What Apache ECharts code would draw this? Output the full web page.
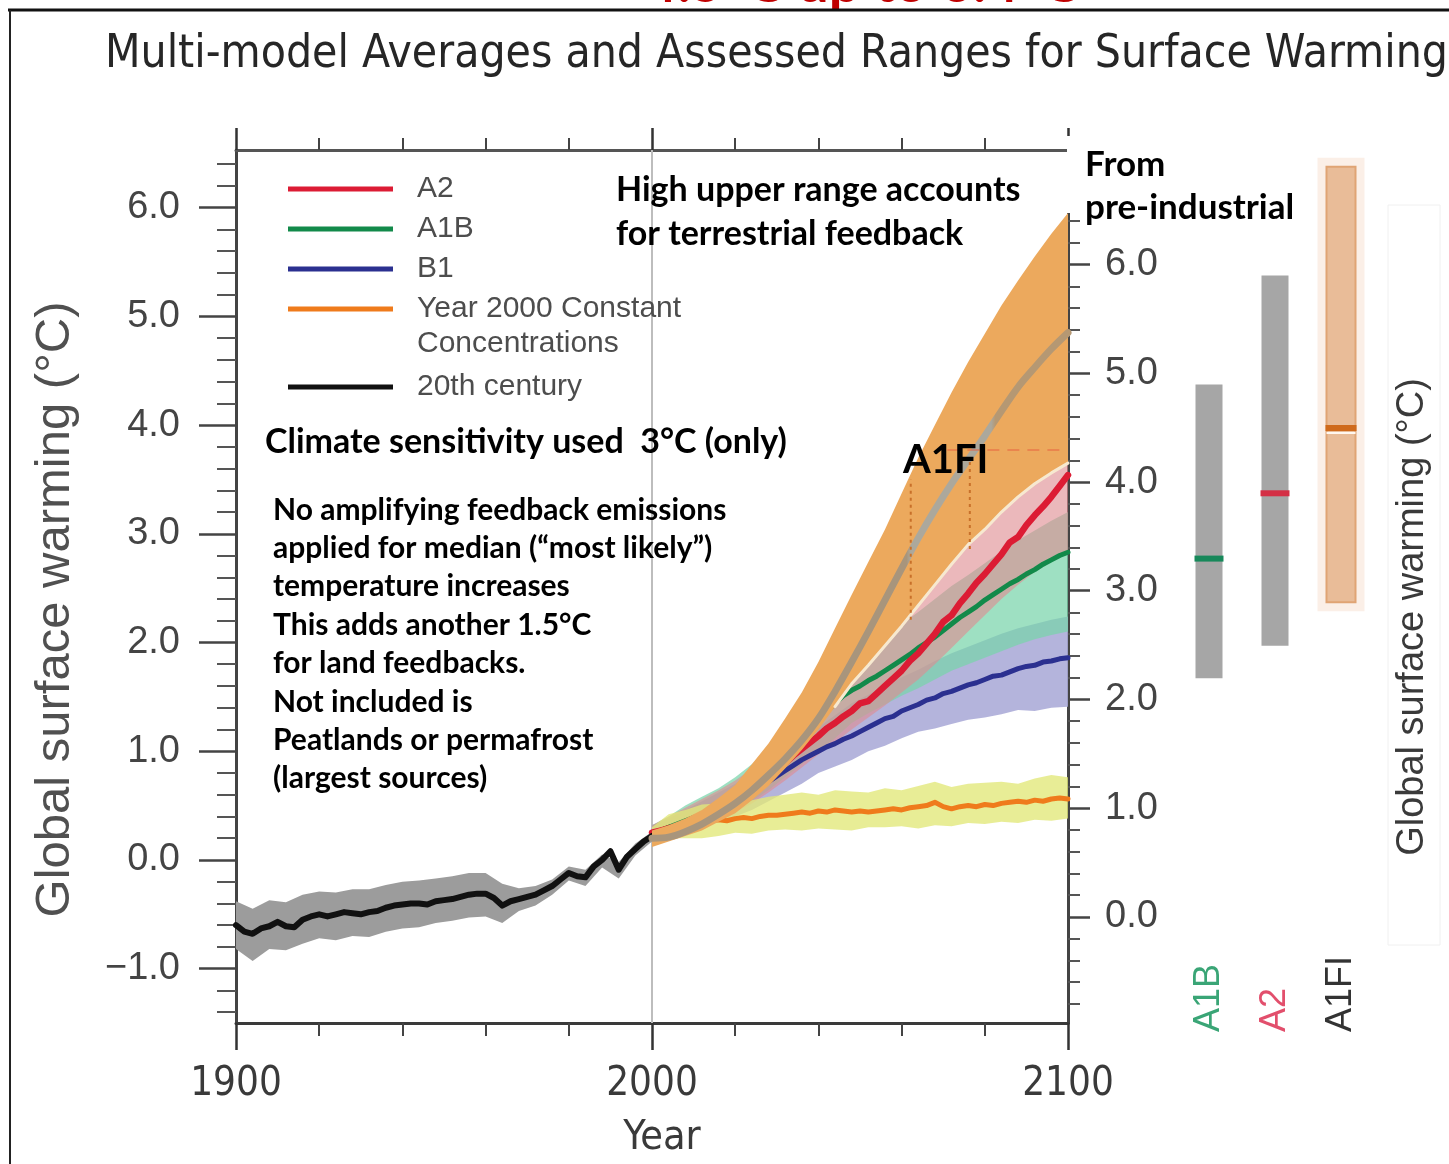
<!DOCTYPE html>
<html>
<head>
<meta charset="utf-8">
<title>Multi-model Averages and Assessed Ranges for Surface Warming</title>
<script src="https://cdn.jsdelivr.net/npm/echarts@6/dist/echarts.min.js"></script>
<style>
  html, body { margin: 0; padding: 0; background: #ffffff; }
  #chart { width: 1449px; height: 1164px; }
</style>
</head>
<body>
<div id="chart"></div>
<script>
// ---------------------------------------------------------------
// 20th century simulations (°C, relative to 1980–1999)
// ---------------------------------------------------------------
const histYears = [1900,1902,1904,1906,1908,1910,1912,1914,1916,1918,1920,1922,1924,1926,1928,1930,1932,1934,1936,1938,1940,1942,1944,1946,1948,1950,1952,1954,1956,1958,1960,1962,1964,1966,1968,1970,1972,1974,1976,1978,1980,1982,1984,1986,1988,1990,1992,1994,1996,1998,2000];
const histMean = [-0.60,-0.66,-0.68,-0.63,-0.61,-0.57,-0.61,-0.62,-0.55,-0.52,-0.50,-0.52,-0.50,-0.48,-0.49,-0.50,-0.48,-0.47,-0.44,-0.42,-0.41,-0.40,-0.40,-0.41,-0.38,-0.37,-0.36,-0.34,-0.32,-0.31,-0.31,-0.35,-0.42,-0.38,-0.36,-0.34,-0.32,-0.28,-0.24,-0.18,-0.12,-0.15,-0.16,-0.06,0.00,0.08,-0.09,0.03,0.10,0.17,0.22];
const histBandYears = [1900,1904,1908,1912,1916,1920,1924,1928,1932,1936,1940,1944,1948,1952,1956,1960,1964,1968,1972,1976,1980,1984,1988,1992,1996,2000];
const histHigh = [-0.38,-0.45,-0.37,-0.39,-0.32,-0.29,-0.30,-0.27,-0.27,-0.23,-0.20,-0.19,-0.17,-0.15,-0.12,-0.12,-0.22,-0.26,-0.24,-0.18,-0.06,-0.09,0.05,-0.02,0.15,0.26];
const histLow  = [-0.82,-0.93,-0.82,-0.83,-0.77,-0.72,-0.74,-0.70,-0.71,-0.66,-0.63,-0.62,-0.58,-0.56,-0.53,-0.52,-0.58,-0.47,-0.42,-0.32,-0.19,-0.24,-0.07,-0.17,0.04,0.17];

// ---------------------------------------------------------------
// 21st century scenario means (°C)
// ---------------------------------------------------------------
const futureYears = [2000,2002,2004,2006,2008,2010,2012,2014,2016,2018,2020,2022,2024,2026,2028,2030,2032,2034,2036,2038,2040,2042,2044,2046,2048,2050,2052,2054,2056,2058,2060,2062,2064,2066,2068,2070,2072,2074,2076,2078,2080,2082,2084,2086,2088,2090,2092,2094,2096,2098,2100];
const a2Mean = [0.25,0.27,0.29,0.31,0.34,0.37,0.40,0.43,0.47,0.51,0.55,0.60,0.65,0.71,0.77,0.83,0.89,0.96,1.02,1.08,1.14,1.21,1.26,1.32,1.37,1.44,1.46,1.53,1.60,1.67,1.74,1.83,1.90,1.99,2.08,2.19,2.25,2.36,2.45,2.55,2.63,2.72,2.81,2.92,2.97,3.08,3.17,3.25,3.34,3.44,3.54];
const a1bMean = [0.25,0.27,0.30,0.33,0.36,0.39,0.42,0.46,0.50,0.55,0.60,0.66,0.72,0.78,0.85,0.92,0.99,1.06,1.13,1.21,1.28,1.36,1.44,1.51,1.56,1.60,1.65,1.69,1.74,1.79,1.84,1.89,1.95,2.00,2.05,2.11,2.17,2.23,2.28,2.33,2.39,2.44,2.49,2.54,2.58,2.63,2.67,2.72,2.76,2.80,2.83];
const b1Mean = [0.25,0.27,0.29,0.31,0.34,0.37,0.40,0.43,0.47,0.51,0.55,0.59,0.63,0.67,0.72,0.77,0.82,0.87,0.92,0.96,1.00,1.04,1.07,1.11,1.14,1.18,1.22,1.26,1.30,1.32,1.37,1.40,1.43,1.47,1.49,1.53,1.55,1.58,1.61,1.63,1.66,1.69,1.70,1.73,1.76,1.78,1.79,1.82,1.83,1.85,1.86];
const commitMean = [0.25,0.27,0.30,0.31,0.33,0.34,0.35,0.36,0.37,0.36,0.38,0.39,0.38,0.40,0.41,0.41,0.42,0.43,0.44,0.43,0.45,0.44,0.46,0.45,0.44,0.45,0.44,0.45,0.46,0.47,0.46,0.48,0.49,0.50,0.53,0.49,0.47,0.49,0.50,0.49,0.51,0.50,0.52,0.53,0.54,0.53,0.55,0.54,0.56,0.57,0.56];

// ---------------------------------------------------------------
// ±1 standard deviation ranges (°C)
// ---------------------------------------------------------------
const bandYears = [2000,2004,2008,2012,2016,2020,2024,2028,2032,2036,2040,2044,2048,2052,2056,2060,2064,2068,2072,2076,2080,2084,2088,2092,2096,2100];
const b1Low    = [0.18,0.22,0.26,0.30,0.35,0.40,0.46,0.54,0.62,0.70,0.80,0.86,0.92,1.00,1.05,1.12,1.18,1.21,1.25,1.29,1.31,1.34,1.38,1.37,1.40,1.41];
const b1High   = [0.32,0.38,0.46,0.54,0.62,0.70,0.80,0.91,1.02,1.12,1.22,1.33,1.44,1.52,1.60,1.68,1.75,1.83,1.90,1.96,2.02,2.08,2.13,2.17,2.21,2.24];
const a1bLow   = [0.20,0.26,0.30,0.34,0.40,0.46,0.54,0.64,0.76,0.88,1.00,1.12,1.26,1.35,1.43,1.51,1.58,1.66,1.74,1.80,1.86,1.92,1.98,2.03,2.07,2.10];
const a1bHigh  = [0.32,0.40,0.50,0.58,0.66,0.76,0.88,1.02,1.18,1.35,1.56,1.70,1.82,1.94,2.05,2.17,2.28,2.40,2.52,2.62,2.73,2.84,2.94,3.03,3.12,3.20];
const a2Low    = [0.20,0.26,0.29,0.33,0.38,0.44,0.52,0.62,0.73,0.85,0.97,1.08,1.20,1.31,1.42,1.54,1.66,1.80,1.95,2.10,2.25,2.40,2.53,2.65,2.74,2.82];
const a2High   = [0.32,0.40,0.48,0.56,0.64,0.73,0.84,0.97,1.12,1.30,1.48,1.65,1.80,1.95,2.10,2.27,2.44,2.62,2.80,2.98,3.14,3.30,3.45,3.58,3.70,3.82];
const commitLow  = [0.18,0.20,0.20,0.20,0.22,0.25,0.24,0.27,0.28,0.27,0.29,0.28,0.27,0.30,0.30,0.31,0.29,0.32,0.31,0.34,0.33,0.35,0.34,0.37,0.36,0.38];
const commitHigh = [0.30,0.42,0.46,0.51,0.52,0.55,0.55,0.58,0.60,0.62,0.60,0.64,0.63,0.62,0.66,0.64,0.68,0.72,0.67,0.70,0.71,0.72,0.70,0.75,0.78,0.76];

// A1FI range with terrestrial carbon feedback, and its median
const a1fiLow    = [0.12,0.17,0.22,0.27,0.35,0.43,0.55,0.68,0.84,1.01,1.20,1.41,1.62,1.79,1.97,2.15,2.34,2.53,2.72,2.90,3.04,3.20,3.34,3.46,3.56,3.65];
const a1fiHigh   = [0.27,0.32,0.38,0.46,0.57,0.69,0.88,1.07,1.30,1.54,1.82,2.13,2.44,2.74,3.04,3.37,3.70,4.00,4.30,4.58,4.84,5.10,5.33,5.55,5.76,5.95];
const a1fiMedian = [0.20,0.21,0.26,0.33,0.42,0.52,0.64,0.78,0.93,1.10,1.30,1.55,1.82,2.10,2.39,2.68,2.96,3.22,3.46,3.68,3.90,4.13,4.35,4.53,4.70,4.85];

// Pointers from the "A1FI" label down to the band
const pointerYears = [2062.2, 2076.4];
const pointerFrom  = [2.21, 2.86];
const pointerTo    = [3.50, 3.66];
// Thin dashed level line near the label
const levelYears = [2071, 2099];
const levelValue = 3.77;

// ---------------------------------------------------------------
// 2090–2099 likely ranges from pre-industrial (°C)
// ---------------------------------------------------------------
const rangeScenarios = ['A1B', 'A2', 'A1FI'];
const rangeLow  = [2.2, 2.5, 2.9];
const rangeHigh = [4.9, 5.9, 6.9];
const rangeBest = [3.3, 3.9, 4.5];

// ---------------------------------------------------------------
// Axis ticks
// ---------------------------------------------------------------
const yearMajorTicks = [1900, 2000, 2100];
const yearMinorTicks = [1920, 1940, 1960, 1980, 2020, 2040, 2060, 2080];
const tempMajorTicks = [-1, 0, 1, 2, 3, 4, 5, 6];
const tempMinorTicks = [-1.4,-1.2,-0.8,-0.6,-0.4,-0.2,0.2,0.4,0.6,0.8,1.2,1.4,1.6,1.8,2.2,2.4,2.6,2.8,3.2,3.4,3.6,3.8,4.2,4.4,4.6,4.8,5.2,5.4,5.6,5.8,6.2,6.4];
const preIndMajorTicks = [0, 1, 2, 3, 4, 5, 6];
const preIndMinorTicks = [-0.8,-0.6,-0.4,-0.2,0.2,0.4,0.6,0.8,1.2,1.4,1.6,1.8,2.2,2.4,2.6,2.8,3.2,3.4,3.6,3.8,4.2,4.4,4.6,4.8,5.2,5.4,5.6,5.8,6.2,6.4,6.6,6.8];

const yearMin = 1900, yearMax = 2100;
const tempMin = -1.5, tempMax = 6.53;
const preIndustrialOffset = 0.524;   // 1980–1999 relative to pre-industrial
const markerYear = 2000;

// ---------------------------------------------------------------
// Styling
// ---------------------------------------------------------------
const FONT_SANS = "'Liberation Sans', Arial, Helvetica, sans-serif";
const FONT_NARROW = "'DejaVu Sans Condensed', 'Liberation Sans', sans-serif";
const FONT_NOTE = "Lato, 'Open Sans', sans-serif";

const COLORS = {
  a2: '#dc1c34', a1b: '#128a4a', b1: '#2b3090', commit: '#ef7b1c', hist: '#111111',
  histBand: '#9c9c9c',
  a2Band: 'rgba(222,140,146,0.62)',
  a1bBand: 'rgba(120,212,170,0.72)',
  b1Band: 'rgba(170,170,215,0.88)',
  commitBand: 'rgba(226,232,120,0.78)',
  a1fiBand: '#eca95d',
  a1fiEdge: '#f7e9d0',
  pointer: '#c8702a'
};
// median line shading: brownish lower part, light grey middle, tan upper part
const medianGradient = new echarts.graphic.LinearGradient(0, 0, 1, 0, [
  { offset: 0.00, color: '#a8957c' },
  { offset: 0.61, color: '#a8957c' },
  { offset: 0.62, color: '#aca89c' },
  { offset: 0.81, color: '#aca89c' },
  { offset: 0.82, color: '#b59873' },
  { offset: 1.00, color: '#b59873' }
]);

const rangeStyles = [
  { width: 27, fill: '#a6a6a6', marker: '#17885a' },
  { width: 27, fill: '#a6a6a6', marker: '#d42f45' },
  { width: 29, fill: '#e9bc98', stroke: '#e0a474', marker: '#cf6a1c', halo: 9, haloColor: '#fbefe7', underline: '#fff7ef' }
];
const rangeLabelColors = ['#3aa576', '#e24f6c', '#333333'];

// ---------------------------------------------------------------
// Series helpers
// ---------------------------------------------------------------
function bandSeries(name, years, low, high, color, z) {
  return {
    type: 'custom', name: name, xAxisIndex: 0, yAxisIndex: 0, z: z, clip: true, silent: true,
    data: years.map((y, i) => [y, low[i], high[i]]),
    encode: { x: 0, y: [1, 2] },
    renderItem: function (params, api) {
      if (params.dataIndex !== 0) return null;
      const pts = [];
      for (let i = 0; i < years.length; i++) pts.push(api.coord([years[i], high[i]]));
      for (let i = years.length - 1; i >= 0; i--) pts.push(api.coord([years[i], low[i]]));
      return { type: 'polygon', shape: { points: pts }, style: { fill: color } };
    }
  };
}

function lineSeries(name, years, values, color, width, z, smooth) {
  return {
    type: 'line', name: name, xAxisIndex: 0, yAxisIndex: 0, z: z,
    data: years.map((y, i) => [y, values[i]]),
    showSymbol: false, symbol: 'none', smooth: smooth || false, silent: true,
    lineStyle: { color: color, width: width, cap: 'round', join: 'round' },
    itemStyle: { color: typeof color === 'string' ? color : '#aaa' }
  };
}

const series = [];

// vertical reference line at year 2000
series.push({
  type: 'line', name: 'ref2000', xAxisIndex: 0, yAxisIndex: 0, z: 1,
  data: [[markerYear, tempMin], [markerYear, tempMax]],
  showSymbol: false, symbol: 'none', silent: true,
  lineStyle: { color: '#bdbdbd', width: 2 }
});

// uncertainty ranges
series.push(bandSeries('histBand', histBandYears, histLow, histHigh, COLORS.histBand, 2));
series.push(bandSeries('b1Band', bandYears, b1Low, b1High, COLORS.b1Band, 2));
series.push(bandSeries('a1bBand', bandYears, a1bLow, a1bHigh, COLORS.a1bBand, 2));
series.push(bandSeries('a2Band', bandYears, a2Low, a2High, COLORS.a2Band, 2));
series.push(bandSeries('commitBand', bandYears, commitLow, commitHigh, COLORS.commitBand, 2));

// multi-model means
series.push(lineSeries('Year 2000 Constant', futureYears, commitMean, COLORS.commit, 5, 3));
series.push(lineSeries('B1', futureYears, b1Mean, COLORS.b1, 5, 3));
series.push(lineSeries('A1B', futureYears, a1bMean, COLORS.a1b, 5, 3));
series.push(lineSeries('A2', futureYears, a2Mean, COLORS.a2, 6.5, 3));
series.push(lineSeries('20th century', histYears, histMean, COLORS.hist, 6, 3));

// A1FI range with carbon-cycle feedback on top
series.push(bandSeries('a1fiBand', bandYears, a1fiLow, a1fiHigh, COLORS.a1fiBand, 4));
const edgeYears = bandYears.filter(y => y >= 2044);
series.push(lineSeries('a1fiEdge', edgeYears, a1fiLow.slice(bandYears.length - edgeYears.length), COLORS.a1fiEdge, 3, 5));
series.push(lineSeries('a1fiMedian', bandYears, a1fiMedian, medianGradient, 7, 5, 0.3));

// pointers from the A1FI label
pointerYears.forEach((yr, i) => {
  series.push({
    type: 'line', name: 'pointer' + i, xAxisIndex: 0, yAxisIndex: 0, z: 6, silent: true,
    data: [[yr, pointerFrom[i]], [yr, pointerTo[i]]],
    showSymbol: false, symbol: 'none',
    lineStyle: { color: COLORS.pointer, width: 2, type: [3, 4] }
  });
});
series.push({
  type: 'line', name: 'level', xAxisIndex: 0, yAxisIndex: 0, z: 6, silent: true,
  data: levelYears.map(y => [y, levelValue]),
  showSymbol: false, symbol: 'none',
  lineStyle: { color: 'rgba(232,90,60,0.6)', width: 1.5, type: [12, 8] }
});

// likely ranges from pre-industrial
series.push({
  type: 'custom', name: 'ranges', xAxisIndex: 4, yAxisIndex: 4, z: 3, silent: true,
  data: rangeScenarios.map((s, i) => [i, rangeLow[i], rangeHigh[i], rangeBest[i]]),
  encode: { x: 0, y: [1, 2, 3] },
  renderItem: function (params, api) {
    const i = params.dataIndex;
    const lo = api.coord([api.value(0), api.value(1)]);
    const hi = api.coord([api.value(0), api.value(2)]);
    const best = api.coord([api.value(0), api.value(3)]);
    const st = rangeStyles[i];
    const cx = lo[0], w = st.width;
    const kids = [];
    if (st.halo) {
      kids.push({ type: 'rect', shape: { x: cx - w / 2 - st.halo, y: hi[1] - st.halo, width: w + 2 * st.halo, height: lo[1] - hi[1] + 2 * st.halo },
        style: { fill: st.haloColor } });
    }
    kids.push({ type: 'rect', shape: { x: cx - w / 2, y: hi[1], width: w, height: lo[1] - hi[1] },
      style: { fill: st.fill, stroke: st.stroke || null, lineWidth: st.stroke ? 2 : 0 } });
    kids.push({ type: 'rect', shape: { x: cx - w / 2 - 1, y: best[1] - 3, width: w + 2, height: 6 }, style: { fill: st.marker } });
    if (st.underline) {
      kids.push({ type: 'rect', shape: { x: cx - w / 2, y: best[1] + 4, width: w, height: 2 }, style: { fill: st.underline } });
    }
    return { type: 'group', children: kids };
  }
});

// ---------------------------------------------------------------
// Axes
// ---------------------------------------------------------------
const tempFmt = v => (v < 0 ? '\u2212' + Math.abs(v).toFixed(1) : v.toFixed(1));
const hidden = { show: false };
const noLine = { show: false, onZero: false };

const xAxis = [
  { // bottom, major ticks + labels
    type: 'value', gridIndex: 0, min: yearMin, max: yearMax, position: 'bottom',
    axisLine: { show: true, onZero: false, lineStyle: { color: '#3a3a3a', width: 3 } },
    axisTick: { show: true, customValues: yearMajorTicks, length: 27, lineStyle: { color: '#333', width: 2.5 } },
    axisLabel: { show: true, customValues: yearMajorTicks, margin: 42, fontSize: 40, fontFamily: FONT_NARROW, color: '#3a3a3a', formatter: v => String(v) },
    splitLine: hidden,
    name: 'Year', nameLocation: 'middle', nameGap: 95,
    nameTextStyle: { fontSize: 41, fontFamily: FONT_NARROW, color: '#3a3a3a', padding: [0, 0, 0, 20] }
  },
  { // bottom, minor ticks
    type: 'value', gridIndex: 0, min: yearMin, max: yearMax, position: 'bottom',
    axisLine: noLine, axisLabel: hidden, splitLine: hidden,
    axisTick: { show: true, customValues: yearMinorTicks, length: 13, lineStyle: { color: '#444', width: 2 } }
  },
  { // top frame, major ticks
    type: 'value', gridIndex: 0, min: yearMin, max: yearMax, position: 'top',
    axisLine: { show: true, onZero: false, lineStyle: { color: '#555', width: 3 } },
    axisTick: { show: true, customValues: yearMajorTicks, length: 22, lineStyle: { color: '#333', width: 2.5 } },
    axisLabel: hidden, splitLine: hidden
  },
  { // top frame, minor ticks
    type: 'value', gridIndex: 0, min: yearMin, max: yearMax, position: 'top',
    axisLine: noLine, axisLabel: hidden, splitLine: hidden,
    axisTick: { show: true, customValues: yearMinorTicks, length: 12, lineStyle: { color: '#444', width: 2 } }
  },
  { // scenario names under the range bars
    type: 'category', gridIndex: 1, data: rangeScenarios, position: 'bottom',
    axisLine: noLine, axisTick: hidden, splitLine: hidden,
    axisLabel: { show: true, inside: true, rotate: 90, margin: -8, interval: 0, fontSize: 36, fontFamily: FONT_SANS,
      color: (v, i) => rangeLabelColors[i] }
  }
];

const yAxis = [
  { // left, relative to 1980–1999
    type: 'value', gridIndex: 0, min: tempMin, max: tempMax, position: 'left',
    axisLine: { show: true, onZero: false, lineStyle: { color: '#444', width: 3 } },
    axisTick: { show: true, customValues: tempMajorTicks, length: 37, lineStyle: { color: '#444', width: 2.5 } },
    axisLabel: { show: true, customValues: tempMajorTicks, margin: 56, fontSize: 38, fontFamily: FONT_SANS, color: '#444', formatter: tempFmt },
    splitLine: hidden,
    name: 'Global surface warming (°C)', nameLocation: 'middle', nameRotate: 90, nameGap: 156,
    nameTextStyle: { fontSize: 49, fontFamily: FONT_SANS, color: '#505050', padding: [0, 46, 0, 0] }
  },
  {
    type: 'value', gridIndex: 0, min: tempMin, max: tempMax, position: 'left',
    axisLine: noLine, axisLabel: hidden, splitLine: hidden,
    axisTick: { show: true, customValues: tempMinorTicks, length: 19, lineStyle: { color: '#555', width: 2 } }
  },
  { // right, from pre-industrial
    type: 'value', gridIndex: 0, min: tempMin + preIndustrialOffset, max: tempMax + preIndustrialOffset, position: 'right',
    axisLine: { show: true, onZero: false, lineStyle: { color: '#444', width: 3 } },
    axisTick: { show: true, customValues: preIndMajorTicks, length: 22, lineStyle: { color: '#444', width: 2.5 } },
    axisLabel: { show: true, customValues: preIndMajorTicks, margin: 37, fontSize: 38, fontFamily: FONT_SANS, color: '#444', formatter: tempFmt },
    splitLine: hidden
  },
  {
    type: 'value', gridIndex: 0, min: tempMin + preIndustrialOffset, max: tempMax + preIndustrialOffset, position: 'right',
    axisLine: noLine, axisLabel: hidden, splitLine: hidden,
    axisTick: { show: true, customValues: preIndMinorTicks, length: 12, lineStyle: { color: '#555', width: 2 } }
  },
  { // range bars share the pre-industrial scale
    type: 'value', gridIndex: 1, min: tempMin + preIndustrialOffset, max: tempMax + preIndustrialOffset, position: 'right',
    axisLine: noLine, axisTick: hidden, axisLabel: hidden, splitLine: hidden,
    name: 'Global surface warming (°C)', nameLocation: 'middle', nameRotate: 90, nameGap: 20,
    nameTextStyle: { fontSize: 38, fontFamily: FONT_SANS, color: '#3a3a3a', padding: [0, 60, 0, 0] }
  }
];

// ---------------------------------------------------------------
// Free text
// ---------------------------------------------------------------
function note(text, x, y, size) {
  return {
    type: 'text', x: x, y: y, z: 100, silent: true,
    style: { text: text, font: 'bold ' + size + 'px ' + FONT_NOTE, fill: '#000',
      verticalAlign: 'middle', textVerticalAlign: 'middle' }
  };
}

const noteBlock = [
  'No amplifying feedback emissions',
  'applied for median (\u201cmost likely\u201d)',
  'temperature increases',
  'This adds another 1.5°C',
  'for land feedbacks.',
  'Not included is',
  'Peatlands or permafrost',
  '(largest sources)'
];

const graphic = [
  // slide frame
  { type: 'line', z: 100, silent: true, shape: { x1: 8, y1: 10, x2: 1449, y2: 10 }, style: { stroke: '#111', lineWidth: 3 } },
  { type: 'line', z: 100, silent: true, shape: { x1: 10, y1: 10, x2: 10, y2: 1164 }, style: { stroke: '#222', lineWidth: 2 } },
  // headline running off the top edge
  { type: 'text', x: 645, y: 12, z: 99, silent: true,
    style: { text: '4.5°C up to 6.4°C', font: 'bold 56px ' + FONT_NOTE, fill: '#c00000', verticalAlign: 'bottom', textVerticalAlign: 'bottom' } },
  // title
  { type: 'text', x: 105, y: 55, z: 100, silent: true,
    style: { text: 'Multi-model Averages and Assessed Ranges for Surface Warming', font: '45.8px ' + FONT_NARROW, fill: '#262626',
      verticalAlign: 'middle', textVerticalAlign: 'middle' } },
  // white box behind the pre-industrial caption
  { type: 'rect', z: 90, silent: true, shape: { x: 1067, y: 136, width: 240, height: 77 }, style: { fill: '#ffffff' } },
  // faint outline of the right-hand axis title panel
  { type: 'rect', z: 0, silent: true, shape: { x: 1388, y: 205, width: 52, height: 740 }, style: { fill: null, stroke: '#f0f0f0', lineWidth: 1 } },
  // legend continuation line
  { type: 'text', x: 417, y: 344, z: 100, silent: true,
    style: { text: 'Concentrations', font: '30px ' + FONT_SANS, fill: '#4d4d4d', verticalAlign: 'middle', textVerticalAlign: 'middle' } },
  note('High upper range accounts', 616, 190, 34),
  note('for terrestrial feedback', 616, 234, 34),
  note('From', 1085, 165, 35),
  note('pre-industrial', 1085, 208, 35),
  note('Climate sensitivity used  3°C (only)', 265, 442, 34),
  note('A1FI', 903, 460, 40)
].concat(noteBlock.map((t, i) => note(t, 273, 510 + i * 38.4, 30)));

// ---------------------------------------------------------------
// Chart
// ---------------------------------------------------------------
const chart = echarts.init(document.getElementById('chart'), null, { renderer: 'canvas' });
chart.setOption({
  animation: false,
  backgroundColor: '#ffffff',
  grid: [
    { left: 236, top: 150, width: 832, height: 874, containLabel: false },
    { left: 1176, top: 150, width: 198, height: 874, containLabel: false }
  ],
  legend: [
    { data: ['A2', 'A1B', 'B1', 'Year 2000 Constant'], left: 283, top: 167, orient: 'vertical',
      icon: 'rect', itemWidth: 105, itemHeight: 5, itemGap: 6, selectedMode: false,
      textStyle: { fontSize: 30, lineHeight: 34, fontFamily: FONT_SANS, color: '#4d4d4d', padding: [0, 0, 0, 19] } },
    { data: ['20th century'], left: 283, top: 365, orient: 'vertical',
      icon: 'rect', itemWidth: 105, itemHeight: 5, itemGap: 6, selectedMode: false,
      textStyle: { fontSize: 30, lineHeight: 34, fontFamily: FONT_SANS, color: '#4d4d4d', padding: [0, 0, 0, 19] } }
  ],
  xAxis: xAxis,
  yAxis: yAxis,
  series: series,
  graphic: graphic
});
</script>
</body>
</html>
